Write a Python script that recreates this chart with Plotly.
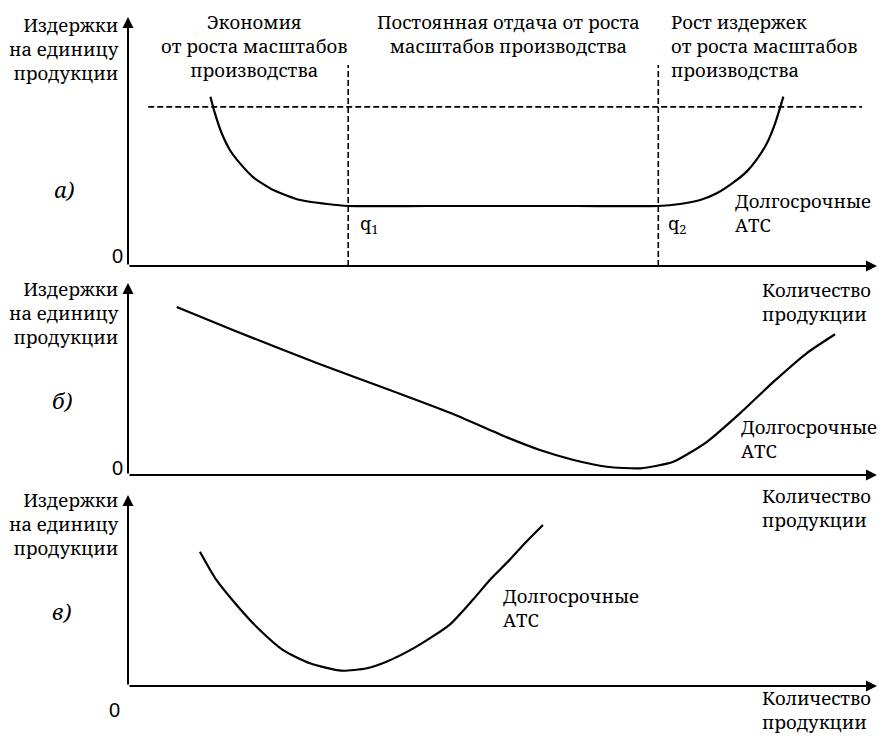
import plotly.graph_objects as go

# ---- data (arbitrary units: quantity 0..100, unit cost 0..100) ----
# a) economies of scale, constant returns, diseconomies of scale
a_q = [11.0, 11.6, 12.5, 13.6, 14.9, 16.7, 19.4, 23.0, 26.6, 29.4,
       40.0, 50.0, 60.0,
       70.8, 73.7, 76.4, 78.6, 80.8, 82.6, 83.9, 85.3, 86.4, 87.5]
a_c = [68.0, 61.4, 53.4, 46.6, 41.4, 35.7, 30.5, 26.5, 24.9, 24.1,
       24.1, 24.1, 24.1,
       24.1, 24.9, 26.5, 29.2, 33.5, 37.9, 42.6, 49.3, 57.3, 68.0]
q1, q2 = 29.4, 70.8
q_top = 80.7
level_c = 63.9
level_q = [2.7, 98.0]

# b) long declining range, minimum far to the right
b_q = [6.5, 14.0, 25.2, 35.4, 43.0, 50.6, 55.0, 59.5, 63.9, 68.4,
       72.8, 77.3, 81.7, 86.2, 90.6, 94.4]
b_c = [87.5, 75.5, 58.3, 43.6, 32.4, 19.6, 13.0, 7.8, 4.3, 3.5,
       6.9, 17.3, 32.1, 48.6, 63.4, 73.3]

# c) U-shaped curve with an early minimum
c_q = [9.6, 11.8, 14.7, 17.6, 20.7, 24.3, 28.5, 31.9, 34.5, 38.5,
       43.0, 46.1, 48.3, 50.6, 52.8, 55.4]
c_c = [70.3, 55.5, 41.5, 29.3, 18.8, 11.9, 8.0, 9.3, 12.7, 20.6,
       32.3, 45.4, 55.5, 64.6, 74.0, 84.3]

W, H = 886, 740
SERIF = "Noto Serif"
FS = 18.5


def px(x):
    return x / W


def py(y):
    return 1 - y / H


fig = go.Figure()

line = dict(color="black", width=2.2)
dash = dict(color="black", width=1.6, dash="6px,3px")

# panel a
fig.add_trace(go.Scatter(x=level_q, y=[level_c, level_c], mode="lines", line=dash,
                         xaxis="x", yaxis="y"))
for q in (q1, q2):
    fig.add_trace(go.Scatter(x=[q, q], y=[0, q_top], mode="lines", line=dash,
                             xaxis="x", yaxis="y"))
fig.add_trace(go.Scatter(x=a_q, y=a_c, mode="lines",
                         line=dict(line, shape="spline", smoothing=0.6),
                         xaxis="x", yaxis="y"))
# panel b
fig.add_trace(go.Scatter(x=b_q, y=b_c, mode="lines",
                         line=dict(line, shape="spline", smoothing=0.6),
                         xaxis="x2", yaxis="y2"))
# panel c
fig.add_trace(go.Scatter(x=c_q, y=c_c, mode="lines",
                         line=dict(line, shape="spline", smoothing=0.6),
                         xaxis="x3", yaxis="y3"))

xdom = [px(128), px(877)]
ydoms = {
    "": [py(266), py(17)],
    "2": [py(475), py(283)],
    "3": [py(686), py(495)],
}
ax_common = dict(range=[0, 100], visible=False, fixedrange=True)
layout_axes = {}
for k, yd in ydoms.items():
    layout_axes["xaxis" + k] = dict(ax_common, domain=xdom, anchor="y" + k)
    layout_axes["yaxis" + k] = dict(ax_common, domain=yd, anchor="x" + k)

annotations = []

# axis arrows
for k in ("", "2", "3"):
    xr, yr = "x" + k, "y" + k
    for tip in ((100, 0), (0, 100)):
        annotations.append(dict(x=tip[0], y=tip[1], ax=0, ay=0, xref=xr, yref=yr,
                                axref=xr, ayref=yr, text="", showarrow=True,
                                arrowhead=2, arrowsize=1.1, arrowwidth=2, arrowcolor="black"))


def label(lines, x, base, xanchor="center", size=FS, family=SERIF, style="normal",
          shift=0.39):
    """Multi-line text block; `base` is the baseline of its first line (px)."""
    if isinstance(lines, str):
        lines = [lines]
    n = len(lines)
    spacing = 1.3 * size
    center = base + (n - 1) / 2 * spacing - shift * size
    align = {"center": "center", "left": "left", "right": "right"}[xanchor]
    annotations.append(dict(text="<br>".join(lines), x=px(x), y=py(center),
                            xref="paper", yref="paper", align=align,
                            xanchor=xanchor, yanchor="middle", showarrow=False,
                            font=dict(family=family, size=size, color="black", style=style)))


ytitle = ["Издержки", "на единицу", "продукции"]
xtitle = ["Количество", "продукции"]
atc = ["Долгосрочные", "АТС"]

label(ytitle, 121, 32, xanchor="right")
label(ytitle, 121, 296, xanchor="right")
label(ytitle, 121, 507, xanchor="right")

label(["Экономия", "от роста масштабов", "производства"], 254, 29)
label(["Постоянная отдача от роста", "масштабов производства"], 508, 29)
label(["Рост издержек", "от роста масштабов", "производства"], 669, 29, xanchor="left")

label("q<sub>1</sub>", 369, 231)
label("q<sub>2</sub>", 677, 231)

label(atc, 733, 208, xanchor="left")
label(atc, 739, 434, xanchor="left")
label(atc, 501, 603, xanchor="left")

label(xtitle, 760, 297, xanchor="left")
label(xtitle, 760, 503, xanchor="left")
label(xtitle, 760, 705, xanchor="left")

label("0", 117, 262, family="Liberation Sans", size=20, shift=0.3)
label("0", 117, 474, family="Liberation Sans", size=20, shift=0.3)
label("0", 114, 716, family="Liberation Sans", size=20, shift=0.3)

label("a)", 64, 198, size=22, style="italic")
label("б)", 62, 409, size=22, style="italic")
label("в)", 61, 620, size=22, style="italic")

fig.update_layout(
    width=W, height=H,
    margin=dict(l=0, r=0, t=0, b=0),
    paper_bgcolor="white", plot_bgcolor="white",
    showlegend=False,
    annotations=annotations,
    **layout_axes,
)

fig.write_html("out.html", config={"displayModeBar": False})
